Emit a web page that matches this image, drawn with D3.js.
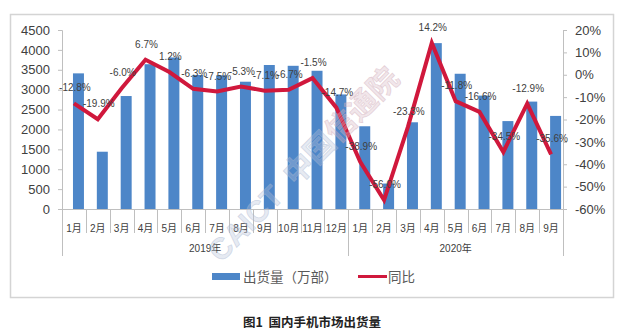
<!DOCTYPE html>
<html>
<head>
<meta charset="utf-8">
<script src="https://cdn.jsdelivr.net/npm/d3@7"></script>
<style>
  html, body { margin: 0; padding: 0; background: #fff; }
  svg { display: block; }
  text { font-family: "Liberation Sans", "Noto Sans CJK SC", sans-serif; }
</style>
</head>
<body>
<svg id="chart" width="630" height="336"></svg>
<script>
// Monthly domestic handset shipments (10k units) and year-on-year change
const months = ["1月","2月","3月","4月","5月","6月","7月","8月","9月","10月","11月","12月",
                "1月","2月","3月","4月","5月","6月","7月","8月","9月"];
const years = ["2019年", "2020年"];
const yearMonthCounts = [12, 9];
const shipments = [3410, 1440, 2840, 3640, 3810, 3370, 3360, 3200, 3620, 3600, 3475, 2880,
                   2080, 640, 2180, 4170, 3400, 2850, 2210, 2700, 2340];
const yoy = [-12.8, -19.9, -6.0, 6.7, 1.2, -6.3, -7.5, -5.3, -7.1, -6.7, -1.5, -14.7,
             -38.9, -56.0, -23.3, 14.2, -11.8, -16.6, -34.5, -12.9, -35.6];
const leftTicks = [0, 500, 1000, 1500, 2000, 2500, 3000, 3500, 4000, 4500];
const rightTicks = [-60, -50, -40, -30, -20, -10, 0, 10, 20];
const legendLabels = ["出货量（万部）", "同比"];
const titleText = "图1  国内手机市场出货量";

const svg = d3.select("#chart");
const plot = { left: 62, right: 563, top: 30, bottom: 209 };
const barColor = "#4d86c8";
const lineColor = "#d0183c";
const axisColor = "#bfbfbf";
const labelColor = "#404040";

// outer frame
svg.append("rect")
  .attr("x", 10.5).attr("y", 14.5).attr("width", 603).attr("height", 283)
  .attr("fill", "#fff").attr("stroke", "#d4d4d4").attr("stroke-width", 1.5);

const x = d3.scaleBand().domain(d3.range(months.length)).range([plot.left, plot.right]).padding(0);
const yL = d3.scaleLinear().domain([0, 4500]).range([plot.bottom, plot.top]);
const yR = d3.scaleLinear().domain([-60, 20]).range([plot.bottom, plot.top]);

const bw = x.bandwidth();
const barW = bw * 0.46;
const barShift = bw * 0.19;

// bars
svg.append("g").selectAll("rect").data(shipments).join("rect")
  .attr("x", (d, i) => x(i) + bw / 2 - barW / 2 + barShift)
  .attr("y", d => yL(d))
  .attr("width", barW)
  .attr("height", d => yL(0) - yL(d))
  .attr("fill", barColor);

// left axis
const gL = svg.append("g").attr("transform", `translate(${plot.left},0)`)
  .call(d3.axisLeft(yL).tickValues(leftTicks).tickSize(4).tickPadding(8).tickFormat(d3.format("d")));
gL.select(".domain").attr("stroke", axisColor);
gL.selectAll(".tick line").attr("stroke", axisColor);
gL.selectAll(".tick text").attr("fill", labelColor).style("font-size", "13px");

// right axis
const gR = svg.append("g").attr("transform", `translate(${plot.right},0)`)
  .call(d3.axisRight(yR).tickValues(rightTicks).tickSize(4).tickPadding(8).tickFormat(d => d + "%"));
gR.select(".domain").attr("stroke", axisColor);
gR.selectAll(".tick line").attr("stroke", axisColor);
gR.selectAll(".tick text").attr("fill", labelColor).style("font-size", "13px");

// category axis with grouped month / year labels
const gX = svg.append("g");
gX.append("line").attr("x1", plot.left).attr("x2", plot.right)
  .attr("y1", plot.bottom + 0.5).attr("y2", plot.bottom + 0.5).attr("stroke", axisColor);
const yearStarts = [0];
yearMonthCounts.forEach((c, i) => yearStarts.push(yearStarts[i] + c));
d3.range(months.length + 1).forEach(i => {
  const xp = i < months.length ? x(i) : plot.right;
  const isYearEdge = yearStarts.includes(i);
  gX.append("line")
    .attr("x1", Math.round(xp) + 0.5).attr("x2", Math.round(xp) + 0.5)
    .attr("y1", plot.bottom).attr("y2", isYearEdge ? 256 : 233)
    .attr("stroke", axisColor);
});
gX.selectAll(".month").data(months).join("text")
  .attr("class", "month")
  .attr("x", (d, i) => x(i) + bw / 2)
  .attr("y", 232)
  .attr("text-anchor", "middle")
  .attr("fill", labelColor)
  .style("font-size", "10px")
  .text(d => d);
gX.selectAll(".year").data(years).join("text")
  .attr("class", "year")
  .attr("x", (d, i) => {
    const a = x(yearStarts[i]);
    const b = yearStarts[i + 1] < months.length ? x(yearStarts[i + 1]) : plot.right;
    return (a + b) / 2;
  })
  .attr("y", 252)
  .attr("text-anchor", "middle")
  .attr("fill", labelColor)
  .style("font-size", "10px")
  .text(d => d);

// year-on-year line
const line = d3.line().x((d, i) => x(i) + bw / 2).y(d => yR(d));
svg.append("path").datum(yoy)
  .attr("d", line)
  .attr("fill", "none")
  .attr("stroke", lineColor)
  .attr("stroke-width", 4)
  .attr("stroke-linejoin", "miter");

// data labels above each point
svg.append("g").selectAll("text").data(yoy).join("text")
  .attr("x", (d, i) => x(i) + bw / 2 + 1)
  .attr("y", d => yR(d) - 12)
  .attr("text-anchor", "middle")
  .attr("fill", labelColor)
  .style("font-size", "10px")
  .text(d => d.toFixed(1) + "%");

// diagonal watermark
const wm = svg.append("g").attr("transform", "translate(309,158) rotate(-45.5)");
wm.append("text").attr("x", -137).attr("y", 11)
  .attr("fill", "#b7c3da").attr("fill-opacity", 0.35)
  .attr("stroke", "#a8b6d0").attr("stroke-opacity", 0.45).attr("stroke-width", 0.8)
  .style("font-size", "30px").style("font-weight", "bold")
  .text("CAICT");
wm.append("text").attr("x", -30).attr("y", 11)
  .attr("fill-opacity", 0.35).attr("stroke-opacity", 0.45).attr("stroke-width", 0.8)
  .style("font-size", "30px").style("font-weight", "bold")
  .style("font-family", "'Noto Sans CJK SC', sans-serif")
  .selectAll("tspan").data(["中国", "信通院"]).join("tspan")
  .attr("fill", (d, i) => i ? "#d8b8c4" : "#b7c3da")
  .attr("stroke", (d, i) => i ? "#cfa9b6" : "#a8b6d0")
  .text(d => d);

// legend
const lg = svg.append("g");
lg.append("rect").attr("x", 212).attr("y", 273).attr("width", 28).attr("height", 7).attr("fill", barColor);
lg.append("text").attr("x", 243).attr("y", 282).attr("fill", "#595959")
  .style("font-size", "13.5px").style("font-family", "'Noto Sans CJK SC', sans-serif")
  .text(legendLabels[0]);
lg.append("line").attr("x1", 358).attr("x2", 387).attr("y1", 276.5).attr("y2", 276.5)
  .attr("stroke", lineColor).attr("stroke-width", 3);
lg.append("text").attr("x", 388).attr("y", 282).attr("fill", "#595959")
  .style("font-size", "13.5px").style("font-family", "'Noto Sans CJK SC', sans-serif")
  .text(legendLabels[1]);

// caption
svg.append("text").attr("x", 312).attr("y", 327).attr("text-anchor", "middle")
  .attr("fill", "#222").style("font-size", "12.5px").style("font-weight", "bold")
  .style("font-family", "'Noto Sans CJK SC', sans-serif")
  .attr("xml:space", "preserve")
  .text(titleText);
</script>
</body>
</html>
